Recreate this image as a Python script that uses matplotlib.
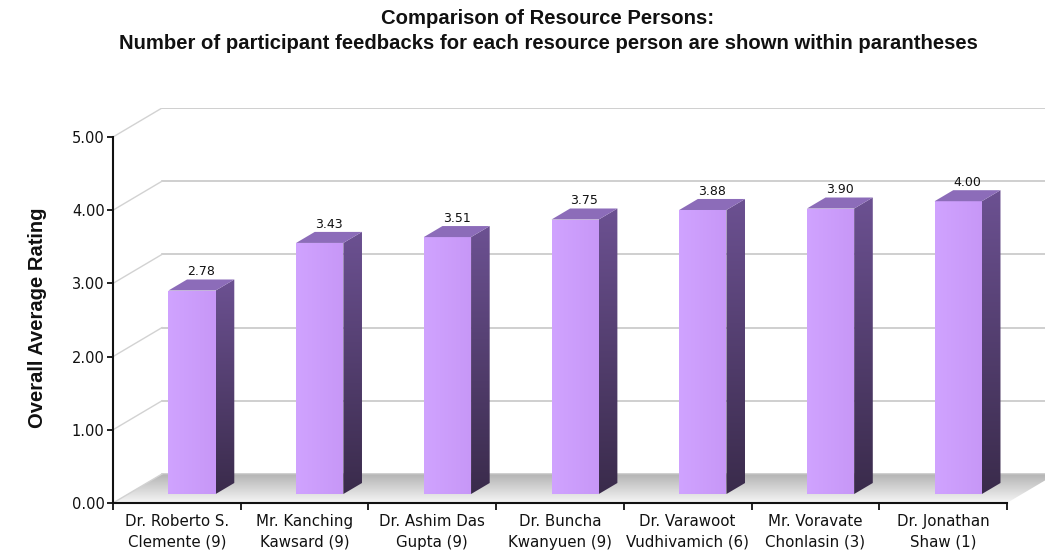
import numpy as np
import matplotlib
matplotlib.use("Agg")
import matplotlib.pyplot as plt
from matplotlib.patches import Polygon

# ---- data ----
persons = [
    "Dr. Roberto S.\nClemente (9)",
    "Mr. Kanching\nKawsard (9)",
    "Dr. Ashim Das\nGupta (9)",
    "Dr. Buncha\nKwanyuen (9)",
    "Dr. Varawoot\nVudhivamich (6)",
    "Mr. Voravate\nChonlasin (3)",
    "Dr. Jonathan\nShaw (1)",
]
ratings = [2.78, 3.43, 3.51, 3.75, 3.88, 3.90, 4.00]
y_ticks = [0, 1, 2, 3, 4, 5]
y_tick_labels = ["0.00", "1.00", "2.00", "3.00", "4.00", "5.00"]

title = ("Comparison of Resource Persons:\n"
         "Number of participant feedbacks for each resource person are shown within parantheses")
y_label = "Overall Average Rating"

# ---- figure geometry ----
W, H, DPI = 1045, 554, 100
n = len(persons)
ymax = 5.0
px_per_cat = 127.7
px_per_unit = 73.2
depth_px = (49.0, 29.0)                 # oblique depth of the floor / walls
dxf = depth_px[0] / px_per_cat          # depth in data units (x)
dyf = depth_px[1] / px_per_unit         # depth in data units (y)

fig = plt.figure(figsize=(W / DPI, H / DPI), dpi=DPI)
fig.patch.set_facecolor("white")
left_px, bottom_px = 113.0, 51.0
ax_w = (n + dxf) * px_per_cat
ax_h = (ymax + dyf) * px_per_unit
ax = fig.add_axes([left_px / W, bottom_px / H, ax_w / W, ax_h / H])
ax.set_xlim(0, n + dxf)
ax.set_ylim(0, ymax + dyf)
ax.set_facecolor("none")


def grad_fill(poly_xy, c0, c1, direction="v", z=1):
    """Fill a polygon with a linear gradient from c0 to c1."""
    poly = Polygon(poly_xy, closed=True, facecolor="none", edgecolor="none", zorder=z)
    ax.add_patch(poly)
    xs = [p[0] for p in poly_xy]
    ys = [p[1] for p in poly_xy]
    x0, x1, y0, y1 = min(xs), max(xs), min(ys), max(ys)
    c0 = np.array(matplotlib.colors.to_rgb(c0))
    c1 = np.array(matplotlib.colors.to_rgb(c1))
    t = np.linspace(0, 1, 128)
    ramp = c0[None, :] * (1 - t[:, None]) + c1[None, :] * t[:, None]
    img = ramp[:, None, :] if direction == "v" else ramp[None, :, :]
    im = ax.imshow(img, extent=[x0, x1, y0, y1], origin="lower", aspect="auto",
                   interpolation="bilinear", zorder=z)
    im.set_clip_path(poly)
    return im


# ---- floor ----
floor = [(0, 0), (n, 0), (n + dxf, dyf), (dxf, dyf)]
grad_fill(floor, "#f6f6f6", "#b4b4b4", "v", z=1)

# ---- walls: gridlines on back wall, diagonals on the side wall ----
for v in y_ticks:
    ax.plot([dxf, n + dxf], [v + dyf, v + dyf], color="#c2c2c2", lw=1.1, zorder=2)
    ax.plot([0, dxf], [v, v + dyf], color="#d2d2d2", lw=1.0, zorder=2)

# ---- 3D bars ----
bar_w = 0.37
f0, f1 = 0.31, 0.69          # front / back depth of the bars
bdx = (f1 - f0) * dxf
bdy = (f1 - f0) * dyf
for i, v in enumerate(ratings):
    xl = i + 0.5 - bar_w / 2 + f0 * dxf
    xr = xl + bar_w
    yb = f0 * dyf
    yt = v + f0 * dyf
    side = [(xr, yb), (xr + bdx, yb + bdy), (xr + bdx, yt + bdy), (xr, yt)]
    grad_fill(side, "#3a2b4b", "#6c5192", "v", z=5)
    front = [(xl, yb), (xr, yb), (xr, yt), (xl, yt)]
    grad_fill(front, "#d0a3ff", "#c797f7", "h", z=6)
    top = [(xl, yt), (xr, yt), (xr + bdx, yt + bdy), (xl + bdx, yt + bdy)]
    ax.add_patch(Polygon(top, closed=True, facecolor="#8c6cb9", edgecolor="none", zorder=6))
    ax.annotate(f"{v:.2f}", xy=(i + 0.5 + 0.5 * dxf, v + f1 * dyf),
                xytext=(0, 1), textcoords="offset points",
                ha="center", va="bottom", fontsize=9, color="#111111",
                family="DejaVu Sans", zorder=8)

# ---- axis lines / ticks ----
for s in ("top", "right"):
    ax.spines[s].set_visible(False)
ax.spines["left"].set_bounds(0, ymax)
ax.spines["bottom"].set_bounds(0, n)
for s in ("left", "bottom"):
    ax.spines[s].set_linewidth(1.5)
    ax.spines[s].set_color("#111111")
    ax.spines[s].set_zorder(9)

ax.set_yticks(y_ticks)
ax.set_yticklabels(y_tick_labels, fontsize=10.5, family="DejaVu Sans", color="#111111")
ax.tick_params(axis="y", length=4, width=1.3, pad=2, color="#111111")

ax.set_xticks(np.arange(n + 1))
ax.set_xticklabels([])
ax.tick_params(axis="x", which="major", length=5, width=1.3, color="#111111")
ax.set_xticks(np.arange(n) + 0.5, minor=True)
ax.set_xticklabels(persons, minor=True, fontsize=10.8, family="DejaVu Sans",
                   color="#111111", linespacing=1.45)
ax.tick_params(axis="x", which="minor", length=0, pad=8)

ax.set_ylabel(y_label, fontsize=14.5, fontweight="bold", family="Liberation Sans",
              color="#111111")
ax.yaxis.set_label_coords(-66 / ax_w, 2.53 / (ymax + dyf))

fig.text(548 / W, 1 - 31 / H, title, ha="center", va="center", fontsize=14.6,
         fontweight="bold", family="Liberation Sans", color="#111111", linespacing=1.42)

fig.savefig("out.png", dpi=DPI, facecolor="white")
